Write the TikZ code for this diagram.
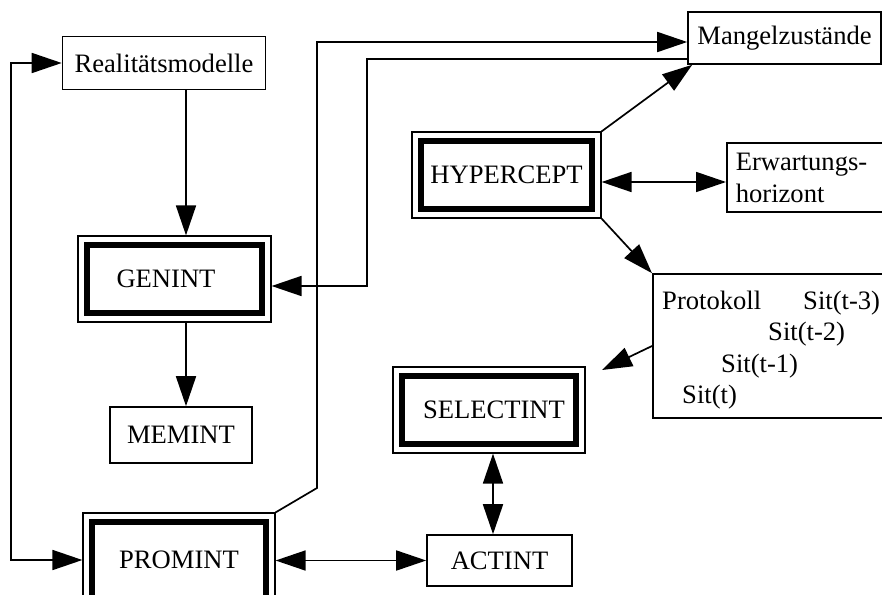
\documentclass[tikz,border=0pt]{standalone}
\usepackage{fontspec}
\setmainfont{Liberation Serif}
\usetikzlibrary{arrows.meta}
\begin{document}
\begin{tikzpicture}[x=1pt,y=-1pt,
  every node/.style={font=\fontsize{26.6}{32}\selectfont, inner sep=0pt},
  sbox/.style={draw, line width=1.6pt, rectangle},
  dbox/.style={draw, line width=1.2pt, rectangle,
    path picture={\draw[line width=5.8pt]
      ([shift={(9pt,-9pt)}]path picture bounding box.north west) rectangle
      ([shift={(-9pt,9pt)}]path picture bounding box.south east);}},
  conn/.style={line width=1.7pt},
  bigtip/.tip={Triangle[length=30pt,width=20pt]},
  txt/.style={anchor=base west}
]
\useasboundingbox (0,0) rectangle (882,594);
\clip (0,0) rectangle (882,594);
\fill[white] (0,0) rectangle (882,594);

% nodes
\node[sbox, minimum width=203pt, minimum height=53pt] (real) at (164,63) {Realitätsmodelle};
\node[dbox, minimum width=193pt, minimum height=86pt] (gen) at (174.5,279) {\hspace*{-17pt}GENINT};
\node[sbox, minimum width=142pt, minimum height=56pt] (mem) at (181,435) {MEMINT};
\node[dbox, minimum width=192pt, minimum height=94pt] (prom) at (179,560) {PROMINT};
\node[dbox, minimum width=189pt, minimum height=86pt] (hyp) at (506.5,175) {HYPERCEPT};
\node[dbox, minimum width=192pt, minimum height=86pt] (sel) at (489,410) {\hspace*{10pt}SELECTINT};
\node[sbox, minimum width=145pt, minimum height=51pt] (act) at (499.5,560.5) {ACTINT};
\node[sbox, minimum width=193pt, minimum height=52pt] (mang) at (784.5,38) {Mangelzustände};
\node[sbox, anchor=west, minimum height=69pt, align=left, text width=162pt, inner xsep=9pt] (erw) at (726,177.5) {Erwartungs-\\horizont};
\node[sbox, anchor=west, minimum width=240pt, minimum height=144pt] (prot) at (652,346) {};
\node[txt] (p0) at (662,309) {Protokoll};
\node[txt] (p3) at (803,309) {Sit(t-3)};
\node[txt] (p2) at (768,340) {Sit(t-2)};
\node[txt] (p1) at (721,372) {Sit(t-1)};
\node[txt] (pt) at (682,403) {Sit(t)};

% helper coordinates
\coordinate (lx) at (11,0);
\coordinate (vx) at (186,0);
\coordinate (ax) at (317,488);
\coordinate (ay) at (0,42);
\coordinate (bx) at (367,59);
\coordinate (by) at (0,286);
\coordinate (ey) at (0,182);
\coordinate (st) at (602,370);
\coordinate (sx) at (493,0);

% connectors
\draw[conn, bigtip-bigtip] (real.west) -- (real.west -| lx) -- (prom.west -| lx) -- (prom.west);
\draw[conn, -bigtip] (real.south -| vx) -- (gen.north -| vx);
\draw[conn, -bigtip] (gen.south -| vx) -- (mem.north -| vx);
\draw[conn, -bigtip] (prom.north east) -- (ax) -- (ax |- ay) -- (mang.west |- ay);
\draw[conn, -bigtip] (mang.west |- bx) -- (bx) -- (bx |- by) -- (gen.east |- by);
\draw[conn, -bigtip] (hyp.north east) -- ([xshift=5pt]mang.south west);
\draw[conn, bigtip-bigtip] (hyp.east |- ey) -- (erw.west |- ey);
\draw[conn, -bigtip] (hyp.south east) -- (prot.north west);
\draw[conn, -bigtip] (prot.west) -- (st);
\draw[conn, bigtip-bigtip] (sel.south -| sx) -- (act.north -| sx);
\draw[conn, bigtip-bigtip] (prom.east |- act.west) -- (act.west);
\end{tikzpicture}
\end{document}
